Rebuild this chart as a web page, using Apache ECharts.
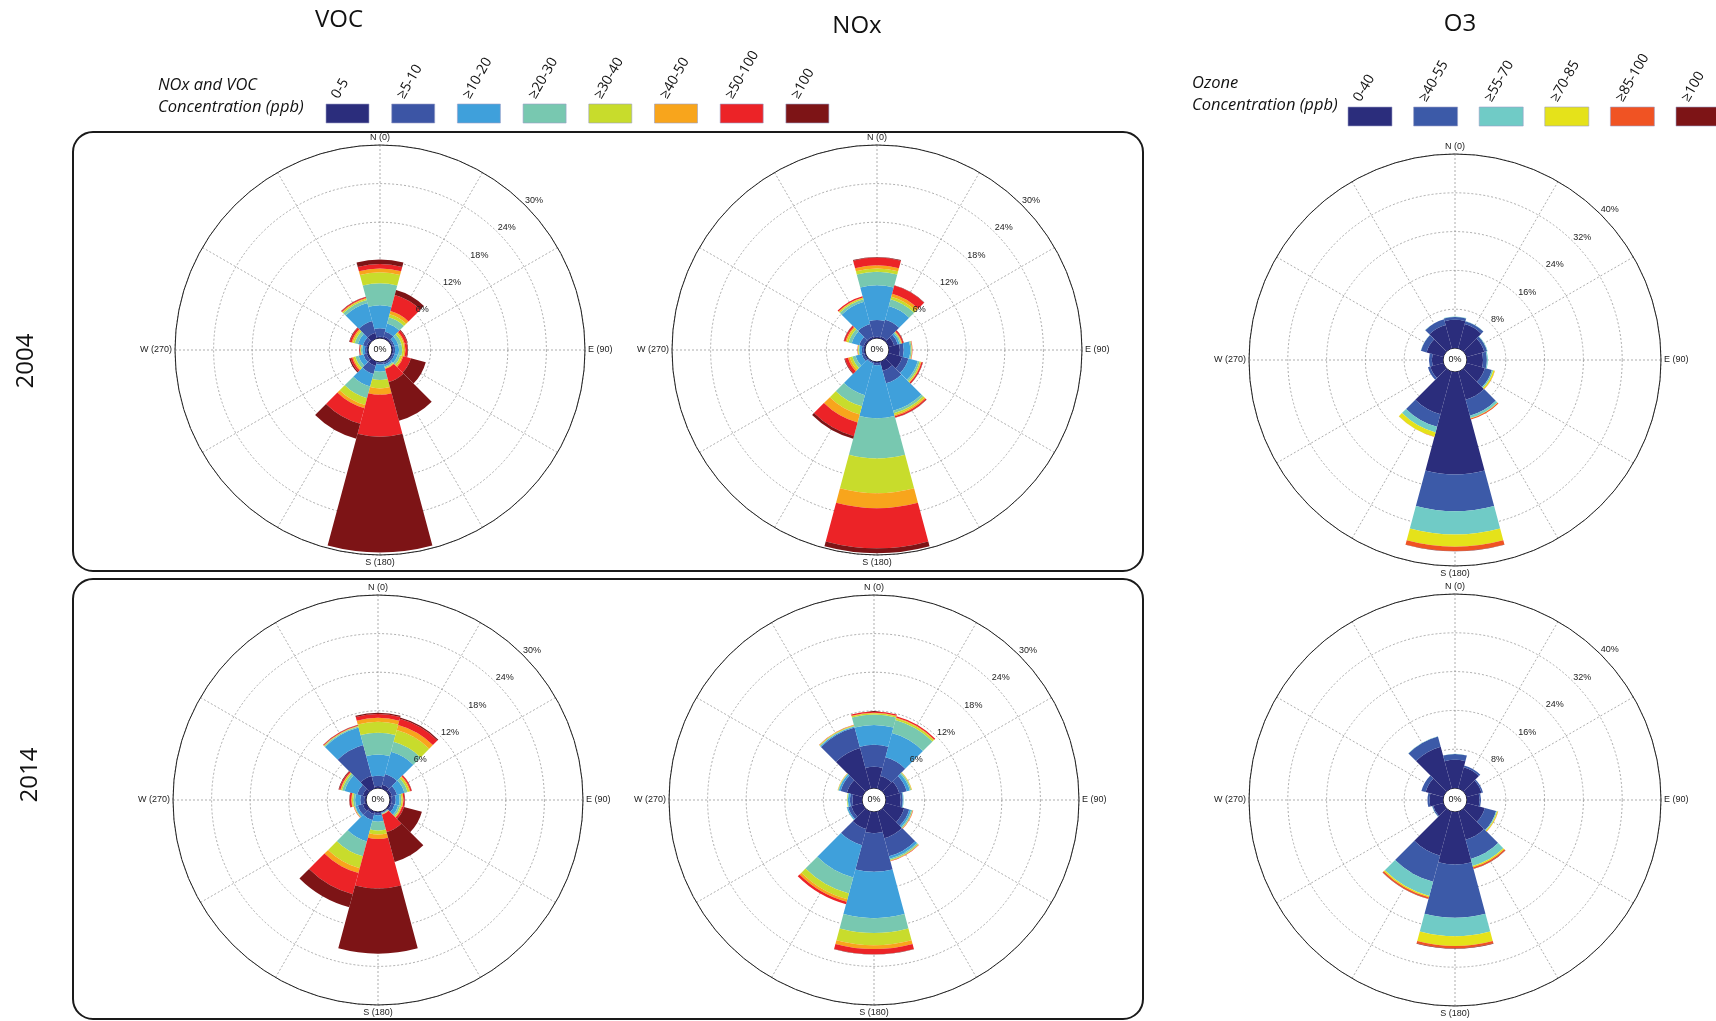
<!DOCTYPE html>
<html>
<head>
<meta charset="utf-8">
<title>Wind roses - VOC, NOx, O3 (2004 / 2014)</title>
<script src="https://cdn.jsdelivr.net/npm/echarts@6/dist/echarts.min.js"></script>
<style>
  html, body { margin: 0; padding: 0; background: #fff; }
  #chart { width: 1716px; height: 1021px; }
</style>
</head>
<body>
<div id="chart"></div>
<script>
// wind direction sectors (degrees from north), 30 deg wide
const directions = [0, 30, 60, 90, 120, 150, 180, 210, 240, 270, 300, 330];

const nmClasses = ['0-5', '≥5-10', '≥10-20', '≥20-30', '≥30-40', '≥40-50', '≥50-100', '≥100'];
const o3Classes = ['0-40', '≥40-55', '≥55-70', '≥70-85', '≥85-100', '≥100'];

const nmColors = ['#2b2d7c', '#3c55a5', '#3fa0db', '#78c8b0', '#c8dc2c', '#f8a51c', '#ec2327', '#7d1416'];
const o3Colors = ['#2b2d7c', '#3c5aa8', '#70cbc6', '#e5e21a', '#f05323', '#7d1416'];

// frequency (%) per direction (rows follow `directions`), split by concentration class
const voc2004 = [
  [0.2, 1.3, 3.6, 3.4, 1.7, 0.6, 0.7, 0.7],
  [0.3, 0.8, 1.3, 1.0, 0.5, 0.5, 2.6, 0.8],
  [0.2, 0.3, 0.6, 0.5, 0.3, 0.2, 0.4, 0.1],
  [0.2, 0.3, 0.6, 0.5, 0.3, 0.2, 0.3, 0.1],
  [0.2, 0.3, 0.5, 0.4, 0.3, 0.2, 1.2, 2.4],
  [0.2, 0.3, 0.3, 0.2, 0.1, 0.1, 2.1, 6.2],
  [0.1, 0.3, 1.1, 1.3, 1.3, 1.0, 6.5, 18.0],
  [0.7, 1.3, 2.0, 1.9, 1.1, 0.5, 2.5, 2.4],
  [0.3, 0.5, 0.8, 0.5, 0.3, 0.2, 0.3, 0.2],
  [0.2, 0.3, 0.4, 0.2, 0.1, 0.05, 0.1, 0.05],
  [0.3, 0.6, 0.8, 0.5, 0.3, 0.2, 0.3, 0.1],
  [0.9, 1.9, 2.9, 0.5, 0.2, 0.1, 0.15, 0.05]
];
const nox2004 = [
  [0.2, 2.6, 5.4, 2.1, 0.5, 0.5, 1.2, 0.1],
  [0.3, 2.7, 2.2, 1.1, 0.4, 0.5, 1.3, 0.05],
  [0.9, 0.6, 0.3, 0.2, 0.1, 0.1, 0.2, 0.05],
  [1.7, 0.6, 1.0, 0.2, 0.05, 0.05, 0.05, 0],
  [2.2, 1.0, 1.5, 0.3, 0.2, 0.1, 0.2, 0.05],
  [1.5, 2.0, 4.4, 0.4, 0.3, 0.2, 0.2, 0.05],
  [0.2, 0.3, 8.25, 6.25, 5.4, 2.3, 6.25, 0.75],
  [0.1, 0.2, 5.1, 1.8, 1.3, 1.3, 2.2, 0.4],
  [0.2, 0.4, 1.0, 0.5, 0.4, 0.3, 0.5, 0.1],
  [0.2, 0.3, 0.4, 0.1, 0.1, 0.05, 0.05, 0],
  [0.3, 0.7, 1.2, 0.5, 0.3, 0.2, 0.25, 0.05],
  [0.3, 2.0, 3.6, 0.4, 0.2, 0.1, 0.2, 0]
];
const o3_2004 = [
  [5.8, 0.6, 0.1, 0, 0, 0],
  [5.2, 0.6, 0.05, 0, 0, 0],
  [3.8, 0.6, 0.1, 0, 0, 0],
  [3.3, 0.8, 0.2, 0, 0, 0],
  [3.9, 1.5, 0.3, 0.3, 0.05, 0],
  [6.0, 3.4, 0.5, 0.1, 0.2, 0],
  [21.1, 7.6, 4.8, 2.5, 0.9, 0.05],
  [9.1, 2.7, 1.2, 0.9, 0.05, 0],
  [2.8, 0.5, 0, 0, 0, 0],
  [2.3, 0.6, 0, 0, 0, 0],
  [3.6, 1.2, 0.05, 0, 0, 0],
  [5.0, 1.2, 0.05, 0, 0, 0]
];
const voc2014 = [
  [0.3, 1.6, 3.3, 3.4, 1.7, 0.6, 0.6, 0.2],
  [0.6, 1.7, 3.6, 1.6, 1.9, 0.8, 1.0, 0.2],
  [0.4, 0.8, 1.2, 0.5, 0.3, 0.15, 0.2, 0.05],
  [0.3, 0.6, 0.6, 0.3, 0.2, 0.1, 0.2, 0.05],
  [0.3, 0.5, 0.6, 0.3, 0.2, 0.1, 0.3, 2.9],
  [0.1, 0.1, 0.1, 0.1, 0.05, 0.05, 2.8, 4.8],
  [0.2, 0.3, 1.0, 1.4, 0.6, 0.7, 7.7, 10.1],
  [0.4, 1.0, 3.4, 2.4, 1.9, 0.8, 3.4, 2.1],
  [0.6, 0.8, 0.4, 0.1, 0.05, 0.05, 0.05, 0],
  [0.3, 0.6, 0.8, 0.3, 0.2, 0.1, 0.25, 0.05],
  [0.6, 0.9, 2.0, 0.4, 0.2, 0.1, 0.2, 0.1],
  [2.0, 5.0, 2.8, 0.15, 0.1, 0.05, 0.1, 0.05]
];
const nox2014 = [
  [3.3, 3.4, 3.1, 1.6, 0.2, 0.1, 0.2, 0],
  [2.0, 3.0, 3.9, 2.1, 0.3, 0.1, 0.2, 0],
  [2.2, 1.2, 0.5, 0.2, 0.1, 0.05, 0, 0],
  [2.3, 0.3, 0.1, 0.05, 0, 0, 0, 0],
  [3.0, 0.8, 0.3, 0.2, 0.05, 0.05, 0.05, 0],
  [4.3, 2.9, 0.4, 0.2, 0.1, 0.05, 0.05, 0],
  [3.3, 6.0, 7.2, 2.3, 1.9, 0.6, 0.8, 0.05],
  [2.8, 2.6, 5.2, 2.6, 0.9, 0.4, 0.4, 0],
  [1.8, 0.5, 0.2, 0.05, 0, 0, 0, 0],
  [1.5, 0.4, 0.3, 0.1, 0.05, 0, 0, 0],
  [2.5, 1.0, 0.3, 0.1, 0.05, 0.05, 0, 0],
  [6.5, 3.3, 0.15, 0.1, 0.1, 0.05, 0.05, 0]
];
const o3_2014 = [
  [5.8, 1.2, 0.05, 0, 0, 0],
  [4.5, 0.4, 0, 0, 0, 0],
  [3.2, 0.3, 0, 0, 0, 0],
  [2.6, 0.3, 0, 0, 0, 0],
  [3.9, 2.4, 0.2, 0.2, 0.05, 0],
  [6.0, 4.1, 1.5, 0.3, 0.3, 0.05],
  [10.8, 11.0, 3.8, 2.0, 0.5, 0.1],
  [9.4, 5.6, 3.0, 0.3, 0.3, 0.05],
  [2.2, 0.2, 0.05, 0, 0, 0],
  [2.8, 0.4, 0, 0, 0, 0],
  [3.8, 0.9, 0, 0, 0, 0],
  [8.9, 2.2, 0.05, 0, 0, 0]
];

const compass = { 0: 'N (0)', 90: 'E (90)', 180: 'S (180)', 270: 'W (270)' };

// layout of the six roses
const roses = [
  { rows: voc2004, o3: false, center: [380, 350], r: 205 },
  { rows: nox2004, o3: false, center: [877, 350], r: 205 },
  { rows: o3_2004, o3: true,  center: [1455, 360], r: 206 },
  { rows: voc2014, o3: false, center: [378, 800], r: 205 },
  { rows: nox2014, o3: false, center: [874, 800], r: 205 },
  { rows: o3_2014, o3: true,  center: [1455, 800], r: 206 }
];
const innerR = 12;
const smallFont = 'Liberation Sans, Arial, sans-serif';
const bigFont = 'Open Sans, Noto Sans, sans-serif';

// the bar polar starts at 45 deg (NE) so the % labels sit on that diagonal;
// first sector is then the one centred on 60 deg
const order = [2, 3, 4, 5, 6, 7, 8, 9, 10, 11, 0, 1];

const polar = [], angleAxis = [], radiusAxis = [], series = [];
const gridLine = { type: [2, 2], color: '#8a8a8a', width: 0.7 };

roses.forEach((rose, i) => {
  const max = rose.o3 ? 40 : 30;
  const step = rose.o3 ? 8 : 6;
  const classes = rose.o3 ? o3Classes : nmClasses;
  const colors = rose.o3 ? o3Colors : nmColors;

  // grid polar: spokes every 30 deg, dashed rings, compass labels
  polar.push({ center: rose.center, radius: [innerR, rose.r] });
  angleAxis.push({
    polarIndex: 2 * i, type: 'value', min: 0, max: 360, interval: 30,
    startAngle: 90, clockwise: true,
    axisLine: { lineStyle: { color: '#222', width: 1 } },
    axisTick: { show: false },
    axisLabel: { formatter: v => compass[v] || '', margin: 3, fontSize: 9, color: '#222', fontFamily: smallFont },
    splitLine: { lineStyle: gridLine }
  });
  radiusAxis.push({
    polarIndex: 2 * i, min: 0, max: max, interval: step,
    axisLine: { show: false }, axisTick: { show: false }, axisLabel: { show: false },
    splitLine: { lineStyle: gridLine }
  });

  // bar polar: stacked sectors
  polar.push({ center: rose.center, radius: [innerR, rose.r] });
  angleAxis.push({
    polarIndex: 2 * i + 1, type: 'category', data: order.map(k => directions[k]),
    startAngle: 45, clockwise: true,
    axisLine: { show: false }, axisTick: { show: false }, axisLabel: { show: false }, splitLine: { show: false }
  });
  radiusAxis.push({
    polarIndex: 2 * i + 1, min: 0, max: max, interval: step, z: 10,
    axisLine: { show: false }, axisTick: { show: false }, splitLine: { show: false },
    axisLabel: {
      margin: 0, align: 'left', verticalAlign: 'bottom', fontSize: 9, color: '#222', fontFamily: smallFont,
      formatter: v => (v === 0 ? '' : v + '%')
    }
  });

  classes.forEach((name, c) => {
    series.push({
      type: 'bar', coordinateSystem: 'polar', polarIndex: 2 * i + 1,
      name: name, stack: 'rose' + i, barCategoryGap: '0%',
      data: order.map(k => rose.rows[k][c]),
      itemStyle: { color: colors[c] },
      silent: true
    });
  });
});

// legends, titles, frames
const graphic = [];
function text(x, y, str, font, extra) {
  graphic.push({
    type: 'text', x: x, y: y,
    style: Object.assign({ text: str, font: font, fill: '#111', align: 'center', verticalAlign: 'middle' }, extra || {})
  });
}

graphic.push({ type: 'rect', shape: { x: 73, y: 132, width: 1070, height: 439, r: 20 }, style: { fill: 'none', stroke: '#1a1a1a', lineWidth: 2 } });
graphic.push({ type: 'rect', shape: { x: 73, y: 579, width: 1070, height: 440, r: 20 }, style: { fill: 'none', stroke: '#1a1a1a', lineWidth: 2 } });

text(339, 20, 'VOC', '24px ' + bigFont);
text(857, 26, 'NOx', '24px ' + bigFont);
text(1460, 24, 'O3', '24px ' + bigFont);

graphic.push({ type: 'text', x: 26, y: 361, rotation: Math.PI / 2,
  style: { text: '2004', font: '24px ' + bigFont, fill: '#111', align: 'center', verticalAlign: 'middle' } });
graphic.push({ type: 'text', x: 30, y: 775, rotation: Math.PI / 2,
  style: { text: '2014', font: '24px ' + bigFont, fill: '#111', align: 'center', verticalAlign: 'middle' } });

text(158, 85, 'NOx and VOC', 'italic 16.5px ' + bigFont, { align: 'left' });
text(158, 107, 'Concentration (ppb)', 'italic 16.5px ' + bigFont, { align: 'left' });
text(1192, 83, 'Ozone', 'italic 16.5px ' + bigFont, { align: 'left' });
text(1192, 105, 'Concentration (ppb)', 'italic 16.5px ' + bigFont, { align: 'left' });

function legendRow(classes, colors, x0, pitch, y, w) {
  classes.forEach((name, c) => {
    const x = x0 + c * pitch;
    graphic.push({ type: 'rect', shape: { x: x, y: y, width: w, height: 19 },
      style: { fill: colors[c], stroke: '#9aa0c8', lineWidth: 0.6 } });
    graphic.push({ type: 'text', x: x + 15, y: y - 3, rotation: Math.PI / 3,
      style: { text: name, font: '14px ' + bigFont, fill: '#111', align: 'left', verticalAlign: 'bottom' } });
  });
}
legendRow(nmClasses, nmColors, 326, 65.7, 104, 43);
legendRow(o3Classes, o3Colors, 1348, 65.6, 107, 44);

roses.forEach(rose => text(rose.center[0], rose.center[1], '0%', '9px ' + smallFont));

const chart = echarts.init(document.getElementById('chart'));
chart.setOption({
  backgroundColor: '#fff',
  animation: false,
  polar: polar,
  angleAxis: angleAxis,
  radiusAxis: radiusAxis,
  series: series,
  graphic: graphic
});
</script>
</body>
</html>
